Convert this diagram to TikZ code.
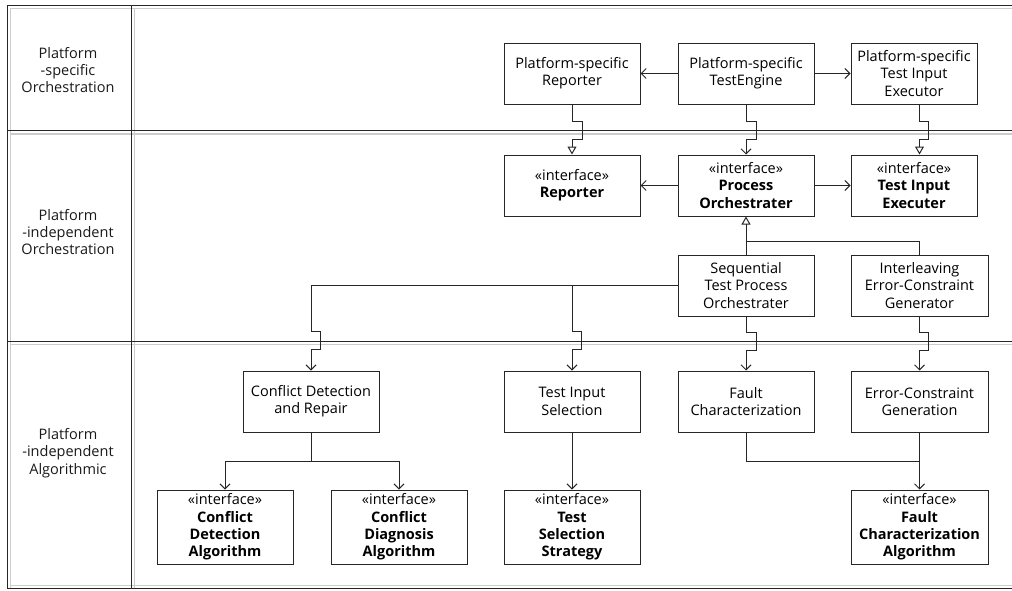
\documentclass[tikz,border=0pt]{standalone}
\usepackage{fontspec}
\setmainfont{Open Sans}
\usetikzlibrary{arrows.meta,calc}
\begin{document}
\begin{tikzpicture}[x=1pt,y=-1pt,
  txt/.style={font=\fontsize{14.5}{17.3}\selectfont, align=center},
  box/.style={txt, draw=black!85, line width=1pt, minimum width=136pt, minimum height=61pt, inner sep=0pt},
  tallbox/.style={box, minimum height=74pt},
  lane/.style={txt, text=black!90},
  frame/.style={draw=black!85, line width=1pt},
  shadow/.style={draw=black!20, line width=1.4pt},
  conn/.style={draw=black!85, line width=1pt},
  dep/.style={conn, -{Straight Barb[length=5pt,width=10pt,line width=1pt]}},
  real/.style={conn, -{Triangle[open,length=8pt,width=9pt,line width=1pt]}},
]
\useasboundingbox (0,0) rectangle (1012,590);
% frame shadows
\draw[shadow] (10,8.5) -- (1012,8.5);
\draw[shadow] (10.5,8) -- (10.5,588);
\draw[shadow] (134.5,8) -- (134.5,588);
\draw[shadow] (10,134) -- (1012,134);
\draw[shadow] (10,344.5) -- (1012,344.5);
\draw[shadow] (10,585.5) -- (1012,585.5);
% frame
\draw[frame] (7,5) -- (1012,5);
\draw[frame] (7,5) -- (7,588.5) -- (1012,588.5);
\draw[frame] (131,5) -- (131,588.5);
\draw[frame] (7,130.5) -- (1012,130.5);
\draw[frame] (7,341) -- (1012,341);
% lane labels
\node[lane] (l1) at (68,70) {Platform\\-specific\\Orchestration};
\node[lane] (l2) at (68,232) {Platform\\-independent\\Orchestration};
\node[lane] (l3) at (68,453) {Platform\\-independent\\Algorithmic};
% row 1
\node[box] (psrep) at (572,73.5) {Platform-specific\\Reporter};
\node[box] (pseng) at (746,73.5) {Platform-specific\\TestEngine};
\node[box, minimum width=126pt] (psexe) at (914,73.5) {Platform-specific\\Test Input\\Executor};
% row 2
\node[box] (rep) at (572,185.5) {«interface»\\\textbf{Reporter}};
\node[box] (po) at (746,185.5) {«interface»\\\textbf{Process}\\\textbf{Orchestrater}};
\node[box, minimum width=126pt] (exe) at (914,185.5) {«interface»\\\textbf{Test Input}\\\textbf{Executer}};
% row 2b
\node[box] (seq) at (746,285.5) {Sequential\\Test Process\\Orchestrater};
\node[box, minimum width=137pt] (ieg) at (919.5,285.5) {Interleaving\\Error-Constraint\\Generator};
% row 3
\node[box] (cdr) at (311,401.5) {Conflict Detection\\and Repair};
\node[box] (tis) at (572,401.5) {Test Input\\Selection};
\node[box] (fc) at (746,401.5) {Fault\\Characterization};
\node[box, minimum width=137pt] (ecg) at (919.5,401.5) {Error-Constraint\\Generation};
% row 4
\node[tallbox] (cda) at (225,527) {«interface»\\\textbf{Conflict}\\\textbf{Detection}\\\textbf{Algorithm}};
\node[tallbox] (cdg) at (399,527) {«interface»\\\textbf{Conflict}\\\textbf{Diagnosis}\\\textbf{Algorithm}};
\node[tallbox] (tss) at (572,527) {«interface»\\\textbf{Test}\\\textbf{Selection}\\\textbf{Strategy}};
\node[tallbox, minimum width=137pt] (fca) at (919.5,527) {«interface»\\\textbf{Fault}\\\textbf{Characterization}\\\textbf{Algorithm}};
% connectors row 1 and 2
\draw[dep] (pseng.west) -- (psrep.east);
\draw[dep] (pseng.east) -- (psexe.west);
\draw[dep] (po.west) -- (rep.east);
\draw[dep] (po.east) -- (exe.west);
\draw[real] (psrep.south) -- ++(0,16.5) -- ++(10,0) -- ++(0,18) -- ++(-10,0) -- (rep.north);
\draw[dep] (pseng.south) -- ++(0,16.5) -- ++(10,0) -- ++(0,18) -- ++(-10,0) -- (po.north);
\draw[real] (psexe.south -| ieg.north) -- ++(0,16.5) -- ++(9,0) -- ++(0,18) -- ++(-9,0) -- (exe.north -| ieg.north);
% realization of process orchestrater
\draw[real] (seq.north) -- (po.south);
\draw[conn] (ieg.north) |- ($(seq.north)+(0,-13)$);
% sequential orchestrater uses
\draw[conn] (seq.west) -- (seq.west -| cdr.north);
\draw[dep] (seq.west -| cdr.north) -- ++(0,46) -- ++(9,0) -- ++(0,18) -- ++(-9,0) -- (cdr.north);
\draw[dep] (seq.west -| tis.north) -- ++(0,46) -- ++(9,0) -- ++(0,18) -- ++(-9,0) -- (tis.north);
\draw[dep] (seq.south) -- ++(0,16) -- ++(10,0) -- ++(0,18) -- ++(-10,0) -- (fc.north);
\draw[dep] (ieg.south) -- ++(0,16) -- ++(9,0) -- ++(0,18) -- ++(-9,0) -- (ecg.north);
% algorithmic
\draw[conn] (cdr.south) -- ++(0,28.5) coordinate (cdrj);
\draw[dep] (cdrj) -| (cda.north);
\draw[dep] (cdrj) -| (cdg.north);
\draw[dep] (tis.south) -- (tss.north);
\draw[conn] (fc.south) |- ($(ecg.south)+(0,28.5)$);
\draw[dep] (ecg.south) -- (fca.north);
\end{tikzpicture}
\end{document}
